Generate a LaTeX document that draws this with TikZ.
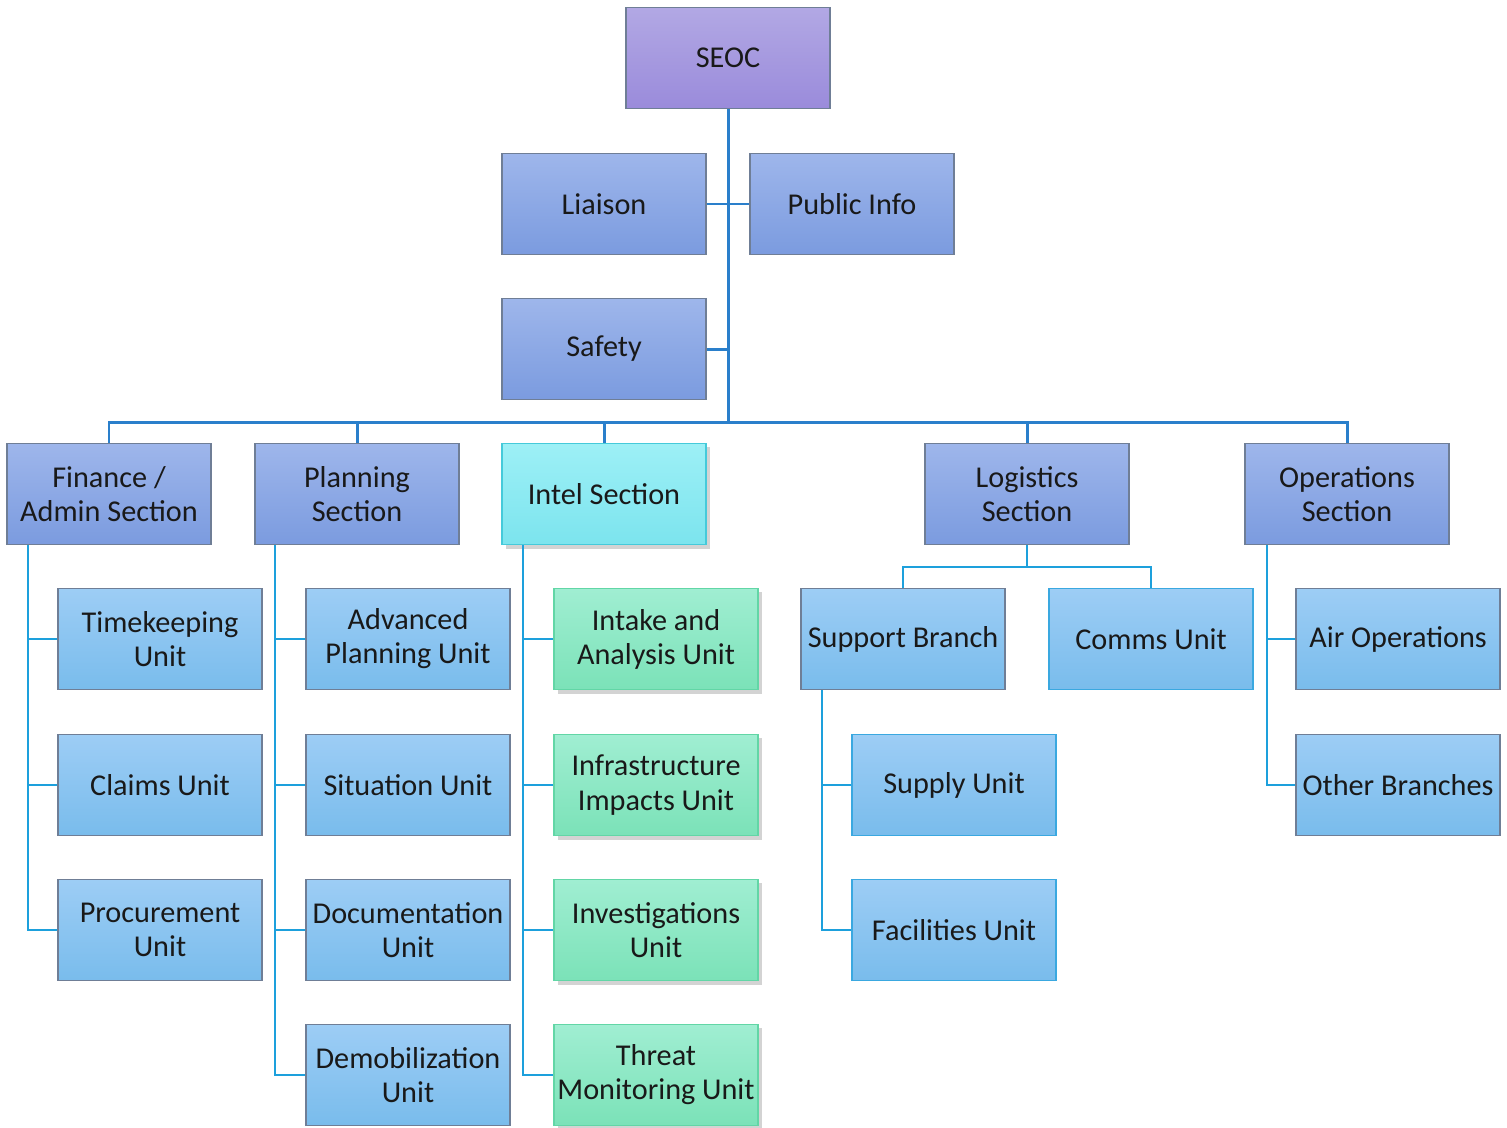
\documentclass[tikz,border=0pt]{standalone}
\usepackage{fontspec}
\setmainfont{Carlito}
\usetikzlibrary{shadows}

\definecolor{lineMain}{HTML}{2A7FCB}
\definecolor{lineSub}{HTML}{1DA0DC}
\definecolor{edgeGrey}{HTML}{6F7E96}
\definecolor{edgeBlue}{HTML}{3AA8E0}

\tikzset{
  box/.style={rectangle, draw=edgeGrey, line width=0.5pt, minimum width=2.04cm,
    minimum height=1.01cm, inner sep=1pt, align=center, text=black!90,
    font=\fontsize{8.6}{9.7}\selectfont},
  topbox/.style={box, top color=HTML_B2A8E4, bottom color=HTML_9A8BDB},
  secbox/.style={box, top color=HTML_9EB6EB, bottom color=HTML_7B9BDF},
  unitbox/.style={box, top color=HTML_9DCDF5, bottom color=HTML_79BCEC},
  intelbox/.style={box, draw=HTML_45CADA, top color=HTML_9DF0F6, bottom color=HTML_7CE4EE,
    drop shadow={shadow xshift=0.04cm, shadow yshift=-0.04cm, opacity=0.35}},
  greenbox/.style={box, draw=HTML_62D6A6, top color=HTML_A0EED2, bottom color=HTML_7BE2B8,
    drop shadow={shadow xshift=0.04cm, shadow yshift=-0.04cm, opacity=0.35}},
  mainline/.style={draw=lineMain, line width=0.85pt},
  subline/.style={draw=lineSub, line width=0.6pt}
}
\definecolor{HTML_B2A8E4}{HTML}{B2A8E4}
\definecolor{HTML_9A8BDB}{HTML}{9A8BDB}
\definecolor{HTML_9EB6EB}{HTML}{9EB6EB}
\definecolor{HTML_7B9BDF}{HTML}{7B9BDF}
\definecolor{HTML_9DCDF5}{HTML}{9DCDF5}
\definecolor{HTML_79BCEC}{HTML}{79BCEC}
\definecolor{HTML_45CADA}{HTML}{45CADA}
\definecolor{HTML_9DF0F6}{HTML}{9DF0F6}
\definecolor{HTML_7CE4EE}{HTML}{7CE4EE}
\definecolor{HTML_62D6A6}{HTML}{62D6A6}
\definecolor{HTML_A0EED2}{HTML}{A0EED2}
\definecolor{HTML_7BE2B8}{HTML}{7BE2B8}

\begin{document}
\begin{tikzpicture}[x=0.01cm, y=-0.01cm]
    \useasboundingbox (0,0) rectangle (1507,1127);

    % command staff
    \node[topbox] (seoc) at (728,58) {SEOC};
    \node[secbox] (liaison) at (604,204) {Liaison};
    \node[secbox] (pubInfo) at (852,204) {Public Info};
    \node[secbox] (safety) at (604,349) {Safety};

    % sections
    \node[secbox] (finance) at (109,494) {Finance /\\Admin Section};
    \node[secbox] (planning) at (357,494) {Planning\\Section};
    \node[intelbox] (intel) at (604,494) {Intel Section};
    \node[secbox] (logistics) at (1027,494) {Logistics\\Section};
    \node[secbox] (operations) at (1347,494) {Operations\\Section};

    % finance units
    \node[unitbox] (timekeeping) at (160,639) {Timekeeping\\Unit};
    \node[unitbox] (claims) at (160,785) {Claims Unit};
    \node[unitbox] (procurement) at (160,930) {Procurement\\Unit};

    % planning units
    \node[unitbox] (advPlanning) at (408,639) {Advanced\\Planning Unit};
    \node[unitbox] (situation) at (408,785) {Situation Unit};
    \node[unitbox] (documentation) at (408,930) {Documentation\\Unit};
    \node[unitbox] (demob) at (408,1075) {Demobilization\\Unit};

    % intel units
    \node[greenbox] (intake) at (656,639) {Intake and\\Analysis Unit};
    \node[greenbox] (infra) at (656,785) {Infrastructure\\Impacts Unit};
    \node[greenbox] (investigations) at (656,930) {Investigations\\Unit};
    \node[greenbox] (threat) at (656,1075) {Threat\\Monitoring Unit};

    % logistics units
    \node[unitbox] (support) at (903,639) {Support Branch};
    \node[unitbox, draw=edgeBlue] (comms) at (1151,639) {Comms Unit};
    \node[unitbox, draw=edgeBlue] (supply) at (954,785) {Supply Unit};
    \node[unitbox, draw=edgeBlue] (facilities) at (954,930) {Facilities Unit};

    % operations units
    \node[unitbox] (airOps) at (1398,639) {Air Operations};
    \node[unitbox] (otherBranches) at (1398,785) {Other Branches};

    % trunk and bus
    \coordinate (bus) at (728,422);
    \draw[mainline] (seoc.south) -- (bus);
    \draw[mainline] (liaison.east) -- (pubInfo.west);
    \draw[mainline] (safety.east) -- (safety.east -| seoc.south);
    \draw[mainline] (finance.north) |- (bus) -| (operations.north);
    \draw[mainline] (planning.north) -- (planning.north |- bus);
    \draw[mainline] (intel.north) -- (intel.north |- bus);
    \draw[mainline] (logistics.north) -- (logistics.north |- bus);

    % section branches
    \coordinate (finTrunk) at (28,545);
    \coordinate (planTrunk) at (275,545);
    \coordinate (intelTrunk) at (523,545);
    \coordinate (suppTrunk) at (822,690);
    \coordinate (opsTrunk) at (1267,545);
    \coordinate (logBus) at (1027,567);

    \draw[subline] (finTrunk) |- (procurement.west);
    \foreach \u in {timekeeping,claims}
      \draw[subline] (\u.west) -- (\u.west -| finTrunk);
    \draw[subline] (planTrunk) |- (demob.west);
    \foreach \u in {advPlanning,situation,documentation}
      \draw[subline] (\u.west) -- (\u.west -| planTrunk);
    \draw[subline] (intelTrunk) |- (threat.west);
    \foreach \u in {intake,infra,investigations}
      \draw[subline] (\u.west) -- (\u.west -| intelTrunk);
    \draw[subline] (logistics.south) -- (logBus);
    \draw[subline] (support.north) |- (logBus) -| (comms.north);
    \draw[subline] (suppTrunk) |- (facilities.west);
    \draw[subline] (supply.west) -- (supply.west -| suppTrunk);
    \draw[subline] (opsTrunk) |- (otherBranches.west);
    \draw[subline] (airOps.west) -- (airOps.west -| opsTrunk);
\end{tikzpicture}
\end{document}
